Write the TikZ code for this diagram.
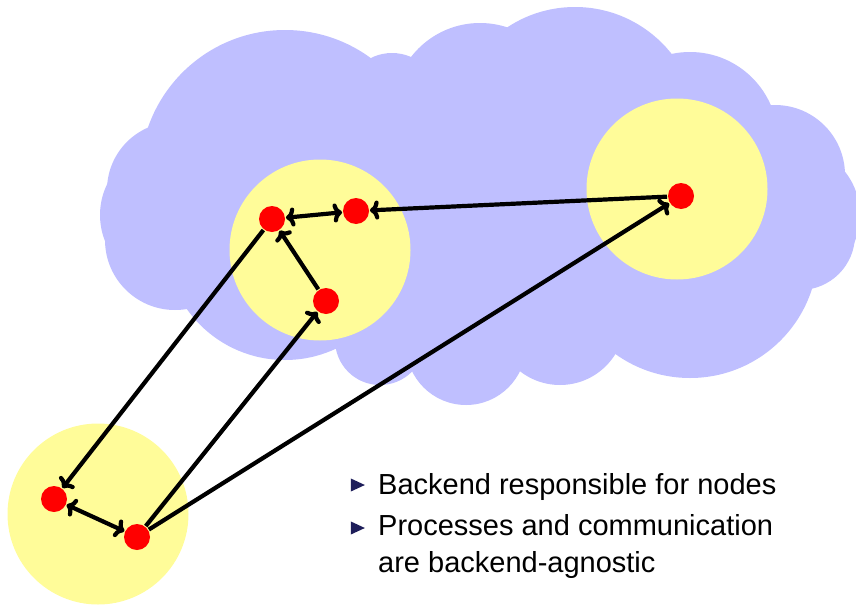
\documentclass[tikz,border=0pt]{standalone}
\usepackage{fontspec}
\setmainfont{Liberation Sans}
\usetikzlibrary{arrows.meta,positioning,shapes.geometric}
\definecolor{sky}{RGB}{191,191,255}
\definecolor{zonefill}{RGB}{255,252,153}
\definecolor{structure}{RGB}{30,30,90}
\tikzset{
  zone/.style={circle,fill=zonefill,minimum size=181pt,inner sep=0pt},
  proc/.style={circle,fill=red,minimum size=26pt,inner sep=0pt,outer sep=1pt},
  msg/.style={-{Computer Modern Rightarrow[length=9pt,width=19pt]},line width=4.2pt,black},
  twoway/.style={msg,{Computer Modern Rightarrow[length=9pt,width=19pt]}-{Computer Modern Rightarrow[length=9pt,width=19pt]}},
  item/.style={anchor=base west,font=\fontsize{29}{37}\selectfont,align=left,inner sep=0pt},
  tri/.style={isosceles triangle,isosceles triangle apex angle=50,fill=structure,
    minimum height=14pt,inner sep=0pt},
}
\begin{document}
\begin{tikzpicture}[x=1pt,y=-1pt]
\useasboundingbox (0,0) rectangle (856,605);
% the cloud
\fill[sky] (180,130) -- (780,120) -- (820,260) -- (700,340) -- (300,330) -- cycle;
\fill[sky] (285,175) circle[radius=145pt];
\fill[sky] (392,100) circle[radius=47pt];
\fill[sky] (480,110) circle[radius=87pt];
\fill[sky] (575,130) circle[radius=123pt];
\fill[sky] (690,140) circle[radius=88pt];
\fill[sky] (775,175) circle[radius=70pt];
\fill[sky] (790,215) circle[radius=70pt];
\fill[sky] (800,235) circle[radius=55pt];
\fill[sky] (690,250) circle[radius=128pt];
\fill[sky] (560,320) circle[radius=65pt];
\fill[sky] (466,345) circle[radius=60pt];
\fill[sky] (380,340) circle[radius=45pt];
\fill[sky] (285,240) circle[radius=120pt];
\fill[sky] (175,240) circle[radius=70pt];
\fill[sky] (170,215) circle[radius=70pt];
\fill[sky] (175,190) circle[radius=68pt];
% zones
\node[zone] (z1) at (320,250) {};
\node[zone] (z2) at (677,189) {};
\node[zone] (z3) at (98,514) {};
% processes
\node[proc] (n1) at (272,219) {};
\node[proc] (n2) at (356,211) {};
\node[proc] (n3) at (681,196) {};
\node[proc] (n4) at (326,301) {};
\node[proc] (n5) at (54,499) {};
\node[proc] (n6) at (137,537) {};
\draw[twoway] (n1) -- (n2);
\draw[msg] (n3) -- (n2);
\draw[msg] (n4) -- (n1);
\draw[msg] (n1) -- (n5);
\draw[twoway] (n5) -- (n6);
\draw[msg] (n6) -- (n4);
\draw[msg] (n6) -- (n3);
% items
\node[item] (i1) at (378,494) {Backend responsible for nodes};
\node[item] (i2) at (378,572) {Processes and communication\\are backend-agnostic};
\node[tri] (b1) at (355,485) {};
\node[tri] (b2) at (355,528) {};
\end{tikzpicture}
\end{document}
